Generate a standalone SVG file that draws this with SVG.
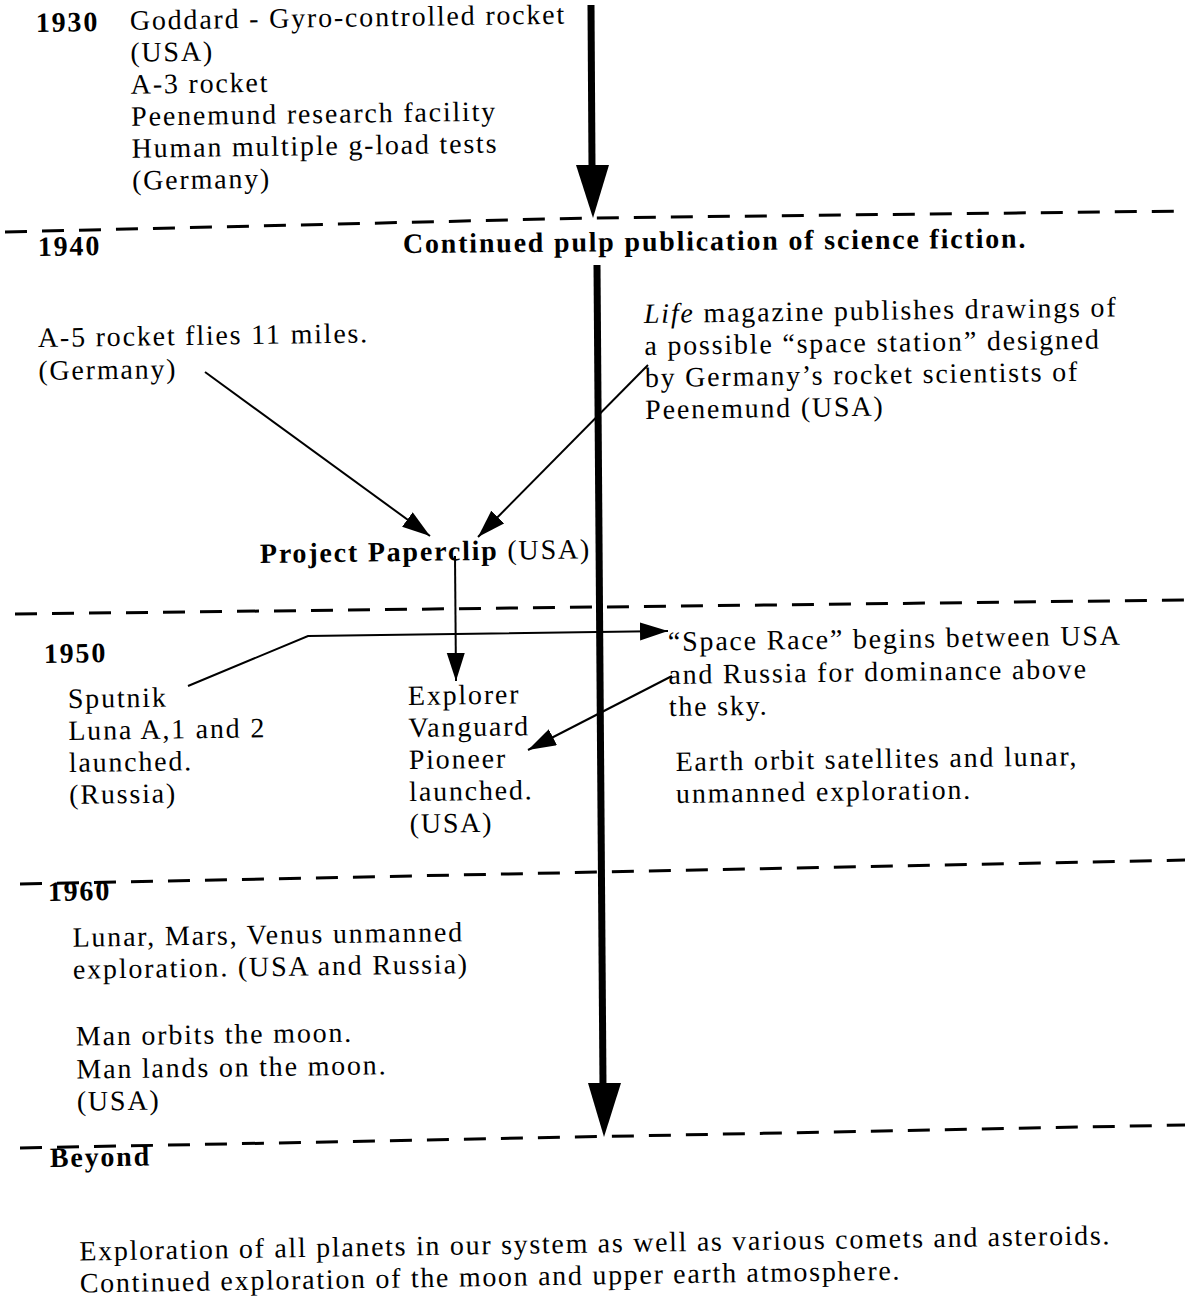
<svg xmlns="http://www.w3.org/2000/svg" width="1185" height="1299" viewBox="0 0 1185 1299">
<defs>
<style>
text{font-family:"Liberation Serif","Times New Roman",serif;font-size:28px;letter-spacing:1.8px;fill:#000}
.b{font-weight:bold}
.dash{fill:none;stroke:#000;stroke-width:3;stroke-dasharray:22 15}
.thin{fill:none;stroke:#000;stroke-width:2}
.thick{fill:none;stroke:#000;stroke-width:7}
.head{fill:#000;stroke:none}
</style>
<marker id="ah" markerUnits="userSpaceOnUse" markerWidth="30" markerHeight="20" refX="28" refY="9" orient="auto">
<path d="M0,0 L28,9 L0,18 z" fill="#000"/>
</marker>
</defs>
<rect width="1185" height="1299" fill="#fff"/>

<g id="dividers">
<polyline class="dash" points="5,232 590,218 1185,211"/>
<polyline class="dash" points="15,614 1185,600"/>
<polyline class="dash" points="20,884 1185,860"/>
<polyline class="dash" points="20,1148 1185,1125"/>
</g>

<g id="connectors">
<line class="thick" x1="591" y1="5" x2="592" y2="168"/>
<polygon class="head" points="576,165 609,165 593,218"/>
<line class="thick" x1="597" y1="265" x2="603" y2="1086"/>
<polygon class="head" points="588,1083 621,1083 604,1137"/>
<line class="thin" x1="205" y1="372" x2="430" y2="536" marker-end="url(#ah)"/>
<line class="thin" x1="648" y1="365" x2="478" y2="537" marker-end="url(#ah)"/>
<line class="thin" x1="455" y1="556" x2="456" y2="681" marker-end="url(#ah)"/>
<polyline class="thin" points="188,686 308,636 668,631" marker-end="url(#ah)"/>
<line class="thin" x1="672" y1="676" x2="528" y2="750" marker-end="url(#ah)"/>
</g>

<g id="y1930" transform="rotate(-0.8 36 32)">
<text class="b" x="36" y="32">1930</text>
<text x="130" y="31">Goddard - Gyro-controlled rocket</text>
<text x="130" y="63">(USA)</text>
<text x="130" y="95">A-3 rocket</text>
<text x="130" y="127">Peenemund research facility</text>
<text x="130" y="159">Human multiple g-load tests</text>
<text x="130" y="191">(Germany)</text>
</g>

<g id="y1940" transform="rotate(-0.8 38 256)">
<text class="b" x="38" y="256">1940</text>
</g>

<g id="pulp" transform="rotate(-0.5 403 253)">
<text class="b" x="403" y="253">Continued pulp publication of science fiction.</text>
</g>

<g id="a5" transform="rotate(-0.8 38 347)">
<text x="38" y="347">A-5 rocket flies 11 miles.</text>
<text x="38" y="380">(Germany)</text>
</g>

<g id="life" transform="rotate(-0.8 644 323)">
<text x="644" y="323"><tspan font-style="italic">Life</tspan> magazine publishes drawings of</text>
<text x="644" y="355">a possible “space station” designed</text>
<text x="644" y="387">by Germany’s rocket scientists of</text>
<text x="644" y="419">Peenemund (USA)</text>
</g>

<g id="paperclip" transform="rotate(-0.8 260 563)">
<text x="260" y="563"><tspan class="b">Project Paperclip</tspan> (USA)</text>
</g>

<g id="y1950" transform="rotate(-0.8 44 663)">
<text class="b" x="44" y="663">1950</text>
</g>

<g id="sputnik" transform="rotate(-0.8 68 708)">
<text x="68" y="708">Sputnik</text>
<text x="68" y="740">Luna A,1 and 2</text>
<text x="68" y="772">launched.</text>
<text x="68" y="804">(Russia)</text>
</g>

<g id="explorer" transform="rotate(-0.8 408 705)">
<text x="408" y="705">Explorer</text>
<text x="408" y="737">Vanguard</text>
<text x="408" y="769">Pioneer</text>
<text x="408" y="801">launched.</text>
<text x="408" y="833">(USA)</text>
</g>

<g id="spacerace" transform="rotate(-0.8 668 651)">
<text x="668" y="651">“Space Race” begins between USA</text>
<text x="668" y="684">and Russia for dominance above</text>
<text x="668" y="716">the sky.</text>
<text x="674" y="771">Earth orbit satellites and lunar,</text>
<text x="674" y="803">unmanned exploration.</text>
</g>

<g id="y1960" transform="rotate(-0.8 48 901)">
<text class="b" x="48" y="901">1960</text>
<text x="72" y="947">Lunar, Mars, Venus unmanned</text>
<text x="72" y="979">exploration. (USA and Russia)</text>
<text x="74" y="1046">Man orbits the moon.</text>
<text x="74" y="1079">Man lands on the moon.</text>
<text x="74" y="1111">(USA)</text>
</g>

<g id="beyond" transform="rotate(-0.9 50 1167)">
<text class="b" x="50" y="1167">Beyond</text>
<text x="78" y="1261" style="letter-spacing:1.7px">Exploration of all planets in our system as well as various comets and asteroids.</text>
<text x="78" y="1293" style="letter-spacing:1.7px">Continued exploration of the moon and upper earth atmosphere.</text>
</g>
</svg>
